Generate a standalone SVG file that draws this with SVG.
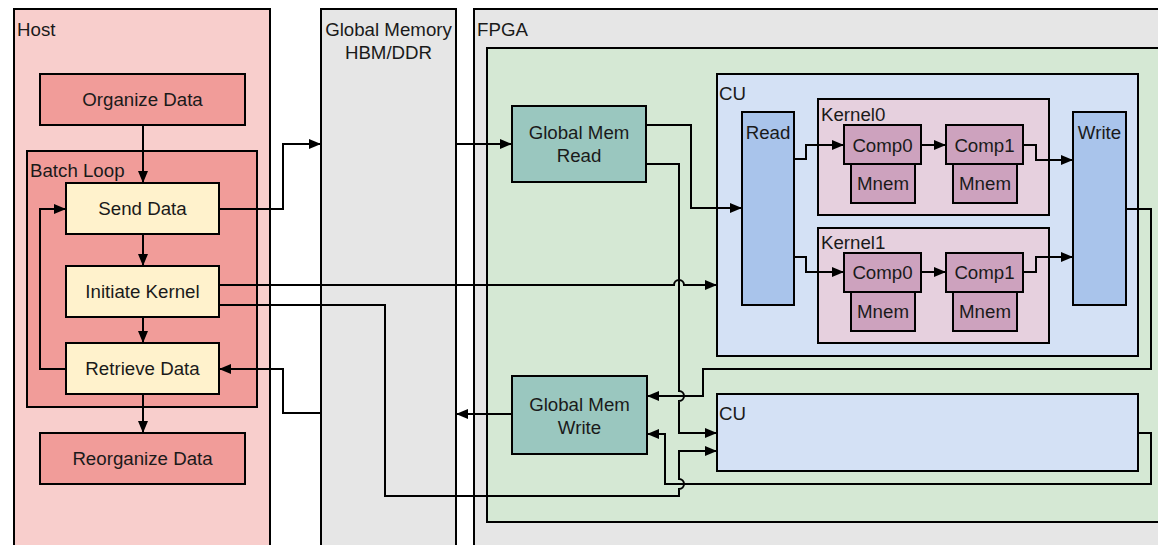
<svg xmlns="http://www.w3.org/2000/svg" width="1158" height="545" viewBox="0 0 1158 545">
<style>
.t{font-family:"Liberation Sans",Arial,sans-serif;font-size:18.7px;fill:#1a1a1a}
.c{text-anchor:middle}
.b{stroke:#000;stroke-width:2}
.ln{fill:none;stroke:#000;stroke-width:2}
.ar{marker-end:url(#a)}
.pk{fill:#f8cecc}.rd{fill:#f19c99}.yl{fill:#fff2cc}.gy{fill:#e6e6e6}.gn{fill:#d5e8d4}
.tl{fill:#9ac7bf}.cu{fill:#d4e1f5}.bl{fill:#a9c4eb}.kn{fill:#e6d0de}.cp{fill:#cda2be}
</style>
<defs>
<marker id="a" markerUnits="userSpaceOnUse" markerWidth="12" markerHeight="10" refX="12" refY="5" orient="auto"><path d="M0,0 L12,5 L0,10 z" fill="#000"/></marker>
</defs>
<rect width="1158" height="545" fill="#fff"/>
<g id="host"><rect class="b pk" x="14" y="9" width="256" height="560"/><text class="t" x="17" y="36">Host</text></g>
<g id="global-memory"><rect class="b gy" x="321" y="9" width="135" height="560"/><text class="t c" x="388.5" y="36">Global Memory</text><text class="t c" x="388.5" y="59">HBM/DDR</text></g>
<g id="fpga"><rect class="b gy" x="474" y="9" width="720" height="560"/><text class="t" x="477" y="36">FPGA</text></g>
<g id="fpga-region"><rect class="b gn" x="487" y="48" width="700" height="474"/></g>
<g id="organize-data"><rect class="b rd" x="40" y="74" width="205" height="51"/><text class="t c" x="142.5" y="106">Organize Data</text></g>
<g id="batch-loop"><rect class="b rd" x="27" y="151" width="230" height="256"/><text class="t" x="30" y="177">Batch Loop</text></g>
<g id="send-data"><rect class="b yl" x="66" y="183" width="153" height="51"/><text class="t c" x="142.5" y="215">Send Data</text></g>
<g id="initiate-kernel"><rect class="b yl" x="66" y="266" width="153" height="51"/><text class="t c" x="142.5" y="298">Initiate Kernel</text></g>
<g id="retrieve-data"><rect class="b yl" x="66" y="343" width="153" height="51"/><text class="t c" x="142.5" y="375">Retrieve Data</text></g>
<g id="reorganize-data"><rect class="b rd" x="40" y="433" width="205" height="51"/><text class="t c" x="142.5" y="465">Reorganize Data</text></g>
<g id="global-mem-read"><rect class="b tl" x="512" y="106" width="134" height="76"/><text class="t c" x="579" y="139">Global Mem</text><text class="t c" x="579" y="162">Read</text></g>
<g id="global-mem-write"><rect class="b tl" x="512" y="376" width="135" height="78"/><text class="t c" x="579.5" y="411">Global Mem</text><text class="t c" x="579.5" y="434">Write</text></g>
<g id="cu1"><rect class="b cu" x="717" y="74" width="421" height="282"/><text class="t" x="719" y="100">CU</text></g>
<g id="read"><rect class="b bl" x="742" y="112" width="52" height="193"/><text class="t c" x="768" y="139">Read</text></g>
<g id="write"><rect class="b bl" x="1073" y="112" width="53" height="193"/><text class="t c" x="1099.5" y="139">Write</text></g>
<g id="kernel0"><rect class="b kn" x="818" y="99" width="231" height="116"/><text class="t" x="821" y="121">Kernel0</text></g>
<g id="k0-comp0"><rect class="b cp" x="844" y="125" width="77" height="39"/><text class="t c" x="882.5" y="151.5">Comp0</text></g>
<g id="k0-mnem0"><rect class="b cp" x="851" y="164" width="64" height="39"/><text class="t c" x="883" y="190">Mnem</text></g>
<g id="k0-comp1"><rect class="b cp" x="946" y="125" width="77" height="39"/><text class="t c" x="984.5" y="151.5">Comp1</text></g>
<g id="k0-mnem1"><rect class="b cp" x="953" y="164" width="64" height="39"/><text class="t c" x="985" y="190">Mnem</text></g>
<g id="kernel1"><rect class="b kn" x="818" y="228" width="231" height="115"/><text class="t" x="821" y="249">Kernel1</text></g>
<g id="k1-comp0"><rect class="b cp" x="844" y="253" width="77" height="39"/><text class="t c" x="882.5" y="279">Comp0</text></g>
<g id="k1-mnem0"><rect class="b cp" x="851" y="292" width="64" height="39"/><text class="t c" x="883" y="318">Mnem</text></g>
<g id="k1-comp1"><rect class="b cp" x="946" y="253" width="77" height="39"/><text class="t c" x="984.5" y="279">Comp1</text></g>
<g id="k1-mnem1"><rect class="b cp" x="953" y="292" width="64" height="39"/><text class="t c" x="985" y="318">Mnem</text></g>
<g id="cu2"><rect class="b cu" x="717" y="394" width="421" height="77"/><text class="t" x="719" y="420">CU</text></g>
<g id="connectors">
<path class="ln ar" d="M143,125 L143,183"/>
<path class="ln ar" d="M143,234 L143,266"/>
<path class="ln ar" d="M143,317 L143,343"/>
<path class="ln ar" d="M143,394 L143,433"/>
<path class="ln ar" d="M66,369 L40,369 L40,209 L66,209"/>
<path class="ln ar" d="M219,209 L283,209 L283,144 L321,144"/>
<path class="ln ar" d="M456,144 L512,144"/>
<path class="ln ar" d="M321,413 L283,413 L283,369 L219,369"/>
<path class="ln ar" d="M512,414 L456,414"/>
<path class="ln ar" d="M219,285 L674,285 A5,5 0 0,1 684,285 L717,285"/>
<path class="ln ar" d="M219,305 L385,305 L385,496 L679,496 L679,489 A5,5 0 0,0 679,479 L679,451 L717,451"/>
<path class="ln ar" d="M646,125 L691,125 L691,208 L742,208"/>
<path class="ln ar" d="M646,164 L679,164 L679,391 A5,5 0 0,1 679,401 L679,433 L717,433"/>
<path class="ln ar" d="M1126,209 L1151,209 L1151,369 L703,369 L703,396 L647,396"/>
<path class="ln ar" d="M1138,433 L1151,433 L1151,484 L665,484 L665,434 L647,434"/>
<path class="ln ar" d="M794,159 L806,159 L806,145 L844,145"/>
<path class="ln ar" d="M921,145 L946,145"/>
<path class="ln ar" d="M1023,145 L1036,145 L1036,160 L1073,160"/>
<path class="ln ar" d="M794,257 L806,257 L806,272 L844,272"/>
<path class="ln ar" d="M921,272 L946,272"/>
<path class="ln ar" d="M1023,272 L1036,272 L1036,257 L1073,257"/>
</g>
</svg>
